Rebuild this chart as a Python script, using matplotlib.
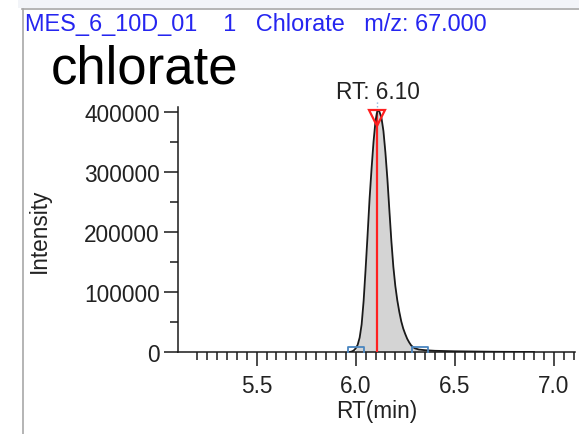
import numpy as np
import matplotlib.pyplot as plt
from matplotlib.lines import Line2D
from matplotlib.path import Path
from matplotlib.patches import Rectangle
from matplotlib.ticker import FixedLocator
import matplotlib.transforms as mtransforms

plt.rcParams['font.family'] = ['Liberation Sans', 'DejaVu Sans']

# chromatogram trace
rt_min = [5.97, 5.98, 5.99, 6.00, 6.01, 6.02, 6.03, 6.04, 6.05, 6.06,
          6.07, 6.08, 6.09, 6.10, 6.11, 6.12, 6.13, 6.14, 6.15, 6.16,
          6.17, 6.18, 6.19, 6.20, 6.21, 6.22, 6.23, 6.24, 6.25, 6.26,
          6.27, 6.28, 6.29, 6.30, 6.32, 6.35, 6.40, 6.50, 6.60, 6.70,
          6.80, 6.90]
intensity = [0, 800, 2500, 6000, 12000, 24000, 46000, 85000, 138000, 195000,
             255000, 305000, 350000, 385000, 403000, 400000, 390000, 368000, 332000, 288000,
             236000, 185000, 142000, 110000, 86000, 67000, 51000, 39000, 30000, 22000,
             16000, 11000, 8000, 6000, 4000, 3000, 2000, 1200, 800, 400,
             200, 0]

peak_rt = 6.11
peak_label = "RT: 6.10"
peak_bounds = [6.00, 6.327]

header = "MES_6_10D_01    1   Chlorate   m/z: 67.000"
big_title = "chlorate"

x_major = [5.5, 6.0, 6.5, 7.0]
x_minor = np.round(np.arange(5.20, 7.101, 0.05), 2)
y_major = [0, 100000, 200000, 300000, 400000]
y_minor = [50000, 150000, 250000, 350000]

W, H = 579, 435
fig = plt.figure(figsize=(W / 100, H / 100), dpi=100)
ax = fig.add_axes([178 / W, (H - 353) / H, (575 - 178) / W, (353 - 108) / H])

t = np.array(rt_min)
y = np.array(intensity)

mask = (t >= peak_bounds[0]) & (t <= peak_bounds[1])
ax.fill_between(t, 0, y, where=mask, color='#d4d4d4', lw=0, zorder=1)
ax.plot([peak_rt, peak_rt], [0, max(intensity) * 0.985], color='#ff2020', lw=1.6, zorder=3)
ax.plot(t, y, color='#1a1a1a', lw=1.3, zorder=4)
ax.plot([peak_rt], [max(intensity) * 0.965], marker='v', ms=11, mfc='none',
        mec='#ff2020', mew=1.6, zorder=5)

# peak boundary markers (half hidden under the axis)
rect = Path([(-1, -0.6), (1, -0.6), (1, 0.6), (-1, 0.6), (-1, -0.6)])
ax.plot(peak_bounds, [0, 0], ls='none', marker=rect, ms=12, mfc='none',
        mec='#4a86c0', mew=1.3, zorder=6, clip_on=True)

trans = mtransforms.blended_transform_factory(ax.transData, ax.transAxes)
ax.plot([peak_rt, peak_rt], [1.0, 1.03], transform=trans, ls=':', color='#8fb6e0',
        lw=1.0, clip_on=False)
ax.text(peak_rt, 1.037, peak_label, transform=trans, ha='center', va='baseline',
        fontsize=16.3, color='#222222')

ax.set_xlim(5.103, 7.107)
ax.set_ylim(0, 408000)
ax.xaxis.set_major_locator(FixedLocator(x_major))
ax.xaxis.set_minor_locator(FixedLocator(x_minor))
ax.yaxis.set_major_locator(FixedLocator(y_major))
ax.yaxis.set_minor_locator(FixedLocator(y_minor))
ax.set_xticklabels(["%.1f" % v for v in x_major])
ax.set_yticklabels(["%d" % v for v in y_major])

for s in ['top', 'right']:
    ax.spines[s].set_visible(False)
for s in ['left', 'bottom']:
    ax.spines[s].set_linewidth(1.1)
    ax.spines[s].set_color('#1a1a1a')

ax.tick_params(which='major', length=10, width=1.1, color='#1a1a1a',
               labelsize=16.3, labelcolor='#222222')
ax.tick_params(which='minor', length=5.8, width=1.1, color='#1a1a1a')
ax.tick_params(axis='x', which='major', pad=5.5)
ax.tick_params(axis='y', which='major', pad=3)

ax.set_xlabel("RT(min)", fontsize=16.3, color='#222222', labelpad=2)
ax.set_ylabel("Intensity", fontsize=16.3, color='#222222', labelpad=24)

# window frame
fig.add_artist(Rectangle((18 / W, (H - 9) / H), (W - 18) / W, 9 / H,
                         transform=fig.transFigure, color='#f2f4f8', lw=0))
fig.add_artist(Line2D([22 / W, 1], [(H - 10) / H] * 2, transform=fig.transFigure,
                      color='#a8a8a8', lw=1.2))
fig.add_artist(Line2D([23 / W] * 2, [0, (H - 10) / H], transform=fig.transFigure,
                      color='#a8a8a8', lw=1.2))

fig.text(25 / W, (H - 31) / H, header, fontsize=16.9, color='#2525f0',
         ha='left', va='baseline')
fig.text(51 / W, (H - 83) / H, big_title, fontsize=38, color='black',
         ha='left', va='baseline')

fig.savefig("out.png", dpi=100)
